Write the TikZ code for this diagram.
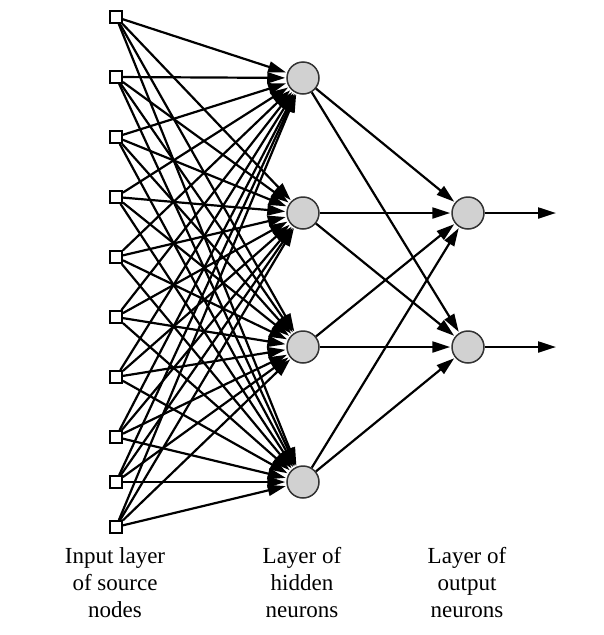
\documentclass[tikz,border=0pt]{standalone}
\usepackage{fontspec}
\setmainfont{Liberation Serif}
\usetikzlibrary{arrows.meta}

\tikzstyle{srcnode}=[rectangle,
                         draw,
                         fill=white,
                         line width=1.8pt,
                         minimum size=12pt,
                         inner sep=0pt]
\tikzstyle{neuron}=[circle,
                         draw=black!80,
                         fill=black!18,
                         line width=1.5pt,
                         minimum size=32pt,
                         inner sep=0pt]
\tikzstyle{synapse}=[line width=2.2pt,
                         -{Triangle[length=18pt,width=11pt]},
                         shorten >=1pt]
\tikzstyle{caption}=[align=center,
                         font=\fontsize{23}{27}\selectfont]

\begin{document}
\begin{tikzpicture}[x=1pt,y=-1pt]
    \useasboundingbox (0,0) rectangle (604,635);
    % input layer
    \foreach \i/\y in {1/17,2/77,3/137,4/197,5/257,6/317,7/377,8/437,9/482,10/527}
        \node [srcnode] (in\i) at (116,\y) {};
    % hidden layer
    \foreach \j/\y in {1/78,2/213,3/347,4/482}
        \node [neuron] (hid\j) at (303,\y) {};
    % output layer
    \node [neuron] (out1) at (468,213) {};
    \node [neuron] (out2) at (468,347) {};
    \coordinate (end1) at (557,213);
    \coordinate (end2) at (557,347);

    \foreach \i in {1,...,10}
        \foreach \j in {1,...,4}
            \draw [synapse] (in\i) -- (hid\j);
    \foreach \j in {1,...,4}
        \foreach \k in {1,2}
            \draw [synapse] (hid\j) -- (out\k);
    \draw [synapse] (out1) -- (end1);
    \draw [synapse] (out2) -- (end2);

    \node [caption] (lblin) at (115,583) {Input layer\\of source\\nodes};
    \node [caption] (lblhid) at (302,583) {Layer of\\hidden\\neurons};
    \node [caption] (lblout) at (467,583) {Layer of\\output\\neurons};
\end{tikzpicture}
\end{document}
